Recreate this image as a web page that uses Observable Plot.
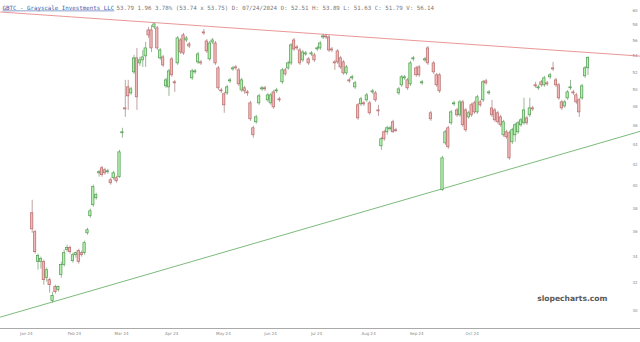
<!DOCTYPE html>
<html><head><meta charset="utf-8">
<script src="https://cdn.jsdelivr.net/npm/d3@7"></script>
<script src="https://cdn.jsdelivr.net/npm/@observablehq/plot@0.6"></script>
<style>body{margin:0;background:#fff} #chart{width:640px;height:342px}</style>
</head><body><div id="chart"></div>
<script>
const headerTicker = "GBTC - Grayscale Investments LLC";
const headerQuote = "53.79 1.96 3.78% (53.74 x 53.75) D: 07/24/2024 O: 52.51 H: 53.89 L: 51.63 C: 51.79 V: 56.14";
const watermark = "slopecharts.com";

const opens = [
37.57,35.96,33.56,33.56,33.56,32.34,32.19,30.67,31.68,31.46,
32.57,33.33,34.50,34.66,33.63,34.10,34.42,34.26,34.26,35.87,
37.31,38.27,38.89,41.20,41.68,41.49,41.30,40.54,40.73,40.73,
40.83,45.19,47.86,50.24,49.55,52.01,53.72,53.10,53.47,53.97,
57.30,57.30,57.70,57.57,53.72,53.84,50.36,50.24,53.60,50.83,
53.10,55.99,56.65,55.99,55.48,51.30,52.01,53.22,53.22,57.04,
55.86,53.60,55.73,55.60,52.49,49.89,49.44,49.55,50.94,52.37,
52.61,52.25,49.89,50.13,49.66,48.42,45.71,46.35,48.42,50.01,
50.13,48.76,48.42,49.66,49.78,48.87,50.83,52.25,52.49,53.10,
55.99,55.09,54.71,53.47,54.21,53.60,54.21,54.09,54.84,54.97,
56.38,56.51,56.38,54.84,53.22,54.59,53.72,53.22,51.89,51.06,
51.30,50.24,48.20,48.31,48.42,48.76,48.42,49.66,49.55,47.64,
43.85,45.29,45.29,45.61,46.35,45.50,49.55,50.48,51.30,51.06,
50.59,53.60,52.49,52.61,50.71,53.47,54.97,47.32,53.10,51.66,
51.66,39.62,44.15,45.71,46.24,48.31,47.64,47.10,48.53,47.64,
46.88,48.20,48.42,47.42,48.53,48.76,50.94,49.55,47.86,47.64,
47.32,46.88,44.98,45.29,45.19,44.26,44.98,45.29,46.03,46.24,
46.77,47.10,47.86,50.48,50.13,50.83,50.48,50.71,51.42,52.49,
51.06,50.48,48.53,48.08,48.98,50.13,49.66,49.32,48.76,48.98,
51.54,52.51];
const highs = [
38.71,36.12,34.18,33.95,33.71,33.10,32.34,31.31,31.82,31.75,
33.56,34.50,34.90,34.82,34.26,34.34,34.58,34.42,35.22,36.29,
37.92,40.08,39.35,41.49,41.87,41.68,41.58,40.73,41.39,40.92,
43.44,45.71,51.06,51.06,50.24,54.09,54.97,53.84,54.71,55.73,
57.70,57.97,58.23,57.83,54.97,54.09,51.30,52.37,53.84,51.06,
56.51,56.25,56.91,56.51,55.73,52.37,52.37,54.46,53.47,57.43,
56.12,55.86,56.25,55.86,52.73,50.13,49.66,50.48,51.30,52.73,
52.85,52.49,51.30,50.36,49.89,48.65,45.92,47.10,49.44,50.36,
50.36,49.55,49.55,49.89,50.13,49.10,52.49,52.49,53.35,55.60,
56.25,55.35,54.97,54.71,54.59,53.84,54.59,54.34,55.22,55.86,
56.78,56.78,56.65,55.09,53.47,54.84,53.97,53.47,52.85,51.30,
51.66,50.94,48.42,49.10,48.65,49.55,48.65,50.01,49.78,48.20,
44.77,45.50,45.92,45.92,46.56,45.71,50.24,51.66,51.66,51.30,
53.35,53.97,52.73,52.85,51.06,53.84,55.22,47.53,53.35,51.89,
51.89,42.85,45.50,45.92,47.64,48.65,47.86,48.76,48.76,47.86,
47.53,48.42,48.65,49.32,48.76,51.06,51.18,49.89,48.76,47.86,
47.53,47.10,46.56,45.50,45.40,45.71,46.24,46.45,46.77,49.00,
46.99,48.99,48.08,50.83,50.48,51.06,51.54,50.94,51.89,53.22,
51.30,50.71,48.76,48.76,49.89,51.06,49.89,49.55,48.98,50.59,
52.73,53.89];
const lows = [
35.87,34.18,32.94,33.02,31.82,32.04,31.24,30.53,31.17,31.31,
32.34,33.17,34.34,34.18,33.48,33.87,33.40,33.95,34.10,35.71,
37.14,38.09,38.71,40.83,40.83,41.02,41.11,40.08,40.54,40.26,
40.73,44.67,46.88,47.64,49.32,51.77,47.64,52.73,52.61,52.61,
56.25,54.46,57.43,54.71,53.47,52.61,50.13,49.21,51.42,49.66,
52.85,54.21,54.09,55.73,54.97,51.06,51.77,52.97,52.85,56.65,
54.34,53.35,55.48,52.85,49.89,49.55,47.32,49.32,50.71,52.13,
52.25,50.36,49.66,49.44,49.21,46.45,44.67,46.14,48.20,49.78,
49.78,48.53,48.20,47.75,49.55,48.53,50.59,51.54,52.25,52.85,
54.59,54.71,52.85,53.22,53.97,52.85,53.97,53.22,54.59,54.71,
56.12,56.12,54.46,54.46,52.25,52.97,52.37,51.66,51.66,50.71,
51.06,50.01,46.56,48.08,48.08,48.53,47.10,49.44,48.53,46.99,
43.44,44.36,44.98,45.40,45.19,45.29,49.32,50.24,51.06,49.89,
50.36,53.35,51.42,51.42,50.48,53.22,52.85,46.45,51.77,50.24,
49.55,39.53,43.95,43.54,46.03,48.08,46.88,46.88,45.82,45.29,
46.67,46.88,47.21,47.21,47.97,48.53,50.48,49.32,46.88,46.35,
46.14,45.82,44.77,44.57,42.45,44.05,44.26,45.08,45.82,46.03,
46.03,46.88,47.53,50.13,49.89,50.24,50.24,50.36,51.18,52.13,
50.24,48.76,47.64,47.86,48.76,49.89,49.32,48.31,46.88,48.76,
51.30,51.63];
const closes = [
36.20,34.34,34.03,33.79,32.19,32.94,31.82,31.03,31.31,31.68,
33.33,34.26,34.66,34.34,34.10,34.26,33.56,34.10,35.06,36.12,
37.74,39.90,39.17,41.30,41.02,41.20,41.39,40.26,41.20,40.45,
43.24,45.29,47.75,49.21,50.01,53.72,49.10,53.47,53.84,54.97,
56.65,54.97,58.10,54.97,54.71,52.85,51.06,52.13,51.66,50.71,
56.25,54.46,54.34,56.25,55.22,52.13,52.13,54.21,53.10,56.91,
54.59,55.60,55.99,53.10,50.13,49.78,48.20,50.24,51.06,52.49,
52.49,50.59,51.06,49.78,49.55,46.67,44.98,46.88,49.21,50.13,
50.01,49.32,49.32,47.97,49.89,48.76,52.25,51.77,53.10,55.35,
54.84,54.97,53.10,54.46,54.34,53.10,54.34,53.47,54.97,55.60,
56.51,56.38,54.71,54.71,53.10,53.22,52.61,51.89,52.61,50.94,
51.42,50.71,46.77,48.87,48.31,49.32,47.32,49.78,48.76,47.53,
44.57,44.57,45.71,45.71,45.29,45.40,50.01,51.42,51.42,50.13,
53.10,53.72,51.66,51.66,50.83,53.60,53.10,46.67,52.01,50.48,
49.78,42.65,45.29,43.75,47.42,48.42,47.10,48.53,46.03,45.50,
47.32,47.10,47.42,49.10,48.20,50.83,50.71,49.66,47.10,46.56,
46.35,46.03,46.35,44.77,42.65,45.50,46.03,46.24,46.56,47.64,
46.24,47.86,47.75,50.36,50.24,50.48,51.30,50.59,51.66,52.37,
50.48,48.98,47.86,48.53,49.66,50.24,49.55,48.53,47.42,50.36,
52.49,53.79];

// trendlines: session index at the chart's left/right edges and price there
const trendSessions = [-10.89, 209.04];
const resistance = [59.79, 54.00];
const support = [29.56, 45.40];

const yTicks = [30,32,34,36,38,40,42,44,46,48,50,52,54,56,58,60];
const xTickSessions = [-2, 14.5, 30.7, 47.9, 65.7, 81.9, 97.7, 115.6, 132.1, 151.2];
const xTickLabels = ["Jan 24","Feb 24","Mar 24","Apr 24","May 24","Jun 24","Jul 24","Aug 24","Sep 24","Oct 24"];

const candles = opens.map((o, i) => ({i, o, h: highs[i], l: lows[i], c: closes[i], up: closes[i] >= o}));
const labelMap = new Map(xTickSessions.map((t, k) => [t, xTickLabels[k]]));
const resLine = trendSessions.map((s, k) => ({s, p: resistance[k]}));
const supLine = trendSessions.map((s, k) => ({s, p: support[k]}));

const chart = Plot.plot({
  width: 640, height: 342,
  marginTop: 0, marginBottom: 14, marginLeft: 0, marginRight: 0,
  style: {background: "#fff", fontFamily: "DejaVu Sans"},
  x: {domain: [-10.89, 209.04], axis: null},
  y: {type: "log", domain: [28.79, 61.40], axis: null},
  marks: [
    Plot.frame({anchor: "bottom", stroke: "#aaa"}),
    Plot.axisX({ticks: xTickSessions, tickFormat: d => labelMap.get(d), tickSize: 0, tickPadding: 4, fontSize: 4, fill: "#888", label: null}),
    Plot.axisY({anchor: "right", ticks: yTicks, tickFormat: d => String(d), tickSize: 0, tickPadding: 0, dx: -3, textAnchor: "end", fontSize: 4, fill: "#888", label: null}),
    Plot.line(resLine, {x: "s", y: "p", stroke: "#e57c7c", strokeWidth: 0.8}),
    Plot.line(supLine, {x: "s", y: "p", stroke: "#5aaa5a", strokeWidth: 0.8}),
    Plot.ruleX(candles, {x: "i", y1: "l", y2: "h", stroke: d => d.up ? "#6a9c6a" : "#a87a7a", strokeWidth: 0.7}),
    Plot.rect(candles, {x1: d => d.i - 0.4, x2: d => d.i + 0.4, y1: "o", y2: "c",
      fill: d => d.up ? "#b4f0ae" : "#f0b8b8", stroke: d => d.up ? "#4f9a4f" : "#b86a6a", strokeWidth: 0.7}),
    Plot.text([headerTicker], {text: d => d, frameAnchor: "top-left", dx: 2, dy: 5, textAnchor: "start",
      fontFamily: "DejaVu Sans Mono", fontSize: 5.8, fill: "#3b5ba8", className: "hdr"}),
    Plot.text([headerQuote], {text: d => d, frameAnchor: "top-left", dx: 116, dy: 5, textAnchor: "start",
      fontFamily: "DejaVu Sans Mono", fontSize: 5.8, fill: "#777"}),
    Plot.text([watermark], {text: d => d, frameAnchor: "bottom-right", dx: -33, dy: -28, textAnchor: "end",
      fontSize: 7.6, fontWeight: "bold", fill: "#5a5a5a", fontFamily: "DejaVu Sans"})
  ]
});
d3.select(chart).selectAll(".hdr text").attr("text-decoration", "underline");
document.getElementById("chart").append(chart);
</script></body></html>
